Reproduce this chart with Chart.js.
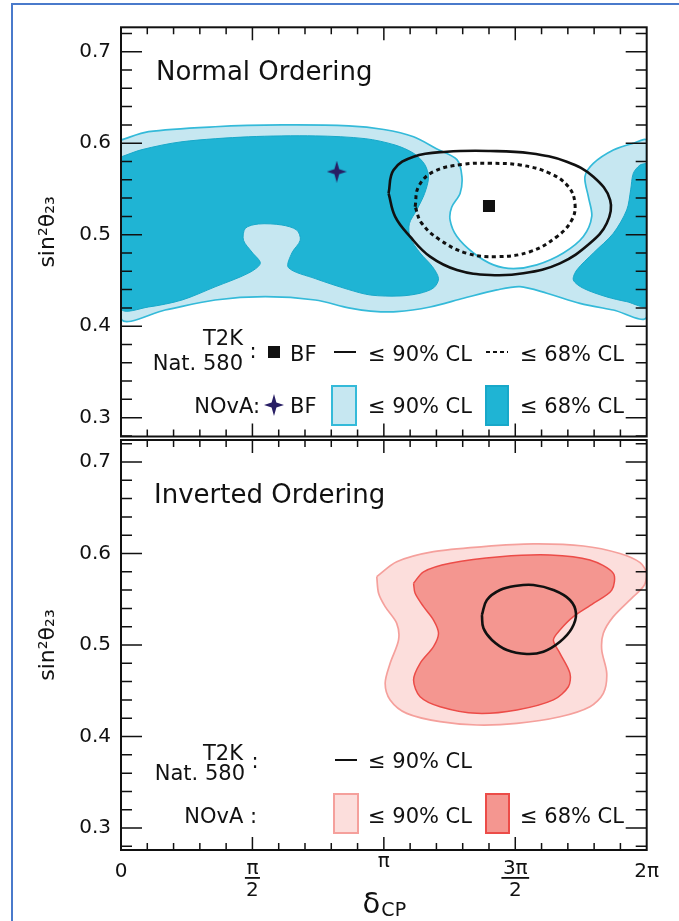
<!DOCTYPE html>
<html><head><meta charset="utf-8">
<script src="https://cdn.jsdelivr.net/npm/chart.js@4.4.1/dist/chart.umd.min.js"></script>
<style>
html,body{margin:0;padding:0;background:#fff;overflow:hidden;width:679px;height:921px;}
#frame{position:absolute;left:11px;top:3px;width:900px;height:1100px;border-left:2px solid #4a7acb;border-top:2px solid #4a7acb;}
canvas{position:absolute;left:0;top:0;}
</style></head><body>
<div id="frame"></div>
<canvas id="cNO" width="679" height="921"></canvas>
<canvas id="cIO" width="679" height="921"></canvas>
<script>
// ---- axis labels ----
const xTickValues = [0, 0.5, 1, 1.5, 2];           // delta_CP in units of pi
const xTickLabels = [['0'], ['π', '2'], ['π'], ['3π', '2'], ['2π']];
const yTickValues = [0.3, 0.4, 0.5, 0.6, 0.7];
const yTickLabels = ['0.3', '0.4', '0.5', '0.6', '0.7'];
const yTitle = 'sin²θ₂₃';
const xTitleMain = 'δ';
const xTitleSub = 'CP';

// ---- Normal ordering: NOvA contours  [delta_CP/pi, sin^2 theta23] ----
const novaNO90 = [[0,0.6035],[0.105,0.6126],[0.358,0.618],[0.612,0.620],[0.866,0.619],[1.0,0.615],[1.113,0.607],[1.2,0.594],[1.278,0.582],[1.297,0.5634],[1.29,0.545],[1.258,0.530],[1.252,0.516],[1.278,0.498],[1.341,0.480],[1.417,0.467],[1.493,0.463],[1.582,0.467],[1.683,0.480],[1.759,0.498],[1.791,0.520],[1.778,0.5415],[1.765,0.5634],[1.797,0.578],[1.873,0.5926],[1.949,0.600],[2.0,0.6027],[2.0,0.4104],[1.873,0.4177],[1.746,0.425],[1.62,0.436],[1.518,0.4432],[1.43,0.4396],[1.303,0.4305],[1.176,0.421],[1.049,0.4158],[0.95,0.4165],[0.866,0.420],[0.739,0.4286],[0.549,0.4322],[0.358,0.4286],[0.168,0.4177],[0,0.4086]];
const novaNO68left = [[0,0.585],[0.08,0.593],[0.232,0.6016],[0.485,0.607],[0.739,0.608],[0.929,0.605],[1.043,0.598],[1.113,0.589],[1.155,0.577],[1.17,0.563],[1.155,0.545],[1.125,0.527],[1.097,0.512],[1.100,0.497],[1.138,0.480],[1.185,0.465],[1.208,0.452],[1.19,0.442],[1.138,0.436],[1.062,0.433],[0.95,0.434],[0.866,0.440],[0.739,0.452],[0.637,0.464],[0.65,0.480],[0.682,0.494],[0.669,0.505],[0.612,0.5106],[0.523,0.5117],[0.473,0.507],[0.466,0.494],[0.498,0.481],[0.53,0.4687],[0.485,0.458],[0.358,0.443],[0.232,0.4286],[0.105,0.421],[0,0.4195]];
const novaNO68right = [[2,0.578],[1.974,0.576],[1.949,0.567],[1.939,0.549],[1.924,0.527],[1.873,0.5015],[1.797,0.480],[1.734,0.4614],[1.721,0.4505],[1.759,0.4414],[1.848,0.432],[1.924,0.4268],[2,0.423]];
const novaNOBest = [[0.821,0.5689]];
// ---- Normal ordering: T2K (Nature 580) ----
const t2kNO90 = [[1.018,0.5452],[1.037,0.5707],[1.113,0.5853],[1.240,0.5907],[1.404,0.5915],[1.556,0.589],[1.696,0.5798],[1.797,0.5634],[1.861,0.5379],[1.848,0.5125],[1.784,0.4906],[1.670,0.4687],[1.531,0.4578],[1.404,0.456],[1.278,0.4614],[1.176,0.476],[1.100,0.4978],[1.043,0.5197]];
const t2kNO68 = [[1.119,0.5306],[1.132,0.5525],[1.189,0.5689],[1.303,0.577],[1.404,0.578],[1.518,0.5762],[1.632,0.5671],[1.702,0.5525],[1.727,0.5343],[1.715,0.516],[1.658,0.4978],[1.556,0.4814],[1.430,0.476],[1.316,0.4797],[1.214,0.4942],[1.144,0.5125]];
const t2kNOBest = [[1.400,0.5314]];

// ---- Inverted ordering ----
const novaIO90 = [[0.973,0.5747],[1.049,0.591],[1.189,0.602],[1.379,0.6075],[1.569,0.6104],[1.759,0.6082],[1.898,0.600],[1.975,0.590],[2.0,0.578],[1.99,0.565],[1.949,0.5528],[1.873,0.531],[1.835,0.5128],[1.829,0.4945],[1.848,0.469],[1.835,0.4472],[1.784,0.4326],[1.670,0.4216],[1.506,0.4143],[1.354,0.4126],[1.214,0.4162],[1.087,0.4253],[1.024,0.440],[1.005,0.4581],[1.024,0.480],[1.056,0.5055],[1.049,0.5237],[1.005,0.5419],[0.980,0.5565]];
const novaIO68 = [[1.113,0.5674],[1.151,0.580],[1.252,0.5893],[1.442,0.5965],[1.632,0.5984],[1.784,0.5929],[1.873,0.5783],[1.867,0.560],[1.797,0.5455],[1.721,0.531],[1.670,0.5164],[1.645,0.5055],[1.670,0.4909],[1.708,0.469],[1.702,0.4544],[1.645,0.440],[1.506,0.429],[1.354,0.4253],[1.214,0.4326],[1.138,0.4435],[1.113,0.4617],[1.138,0.480],[1.189,0.4982],[1.208,0.5128],[1.189,0.5273],[1.151,0.5419],[1.119,0.5565]];
const t2kIO90 = [[1.373,0.5328],[1.392,0.5492],[1.442,0.5601],[1.506,0.5648],[1.569,0.5656],[1.645,0.5601],[1.708,0.5492],[1.731,0.5346],[1.715,0.5182],[1.670,0.5036],[1.607,0.4927],[1.544,0.4902],[1.468,0.4945],[1.411,0.5055],[1.379,0.5182]];

// ---- colours ----
const C = {
  blueLight: 'rgb(198,231,241)', blueLine: 'rgb(52,186,217)', blueDark: 'rgb(31,180,212)', blueDarkLine: 'rgb(24,168,201)',
  redLight: 'rgb(252,222,220)', redLine: 'rgb(245,160,156)', redDark: 'rgb(244,150,144)', redDarkLine: 'rgb(236,76,72)',
  ink: '#111', star: 'rgb(40,30,100)'
};
const FONT = '"DejaVu Sans", "Liberation Sans", sans-serif';

function makeStar(w, h, color) {
  const c = document.createElement('canvas'); c.width = w; c.height = h;
  const g = c.getContext('2d'); const cx = w / 2, cy = h / 2, r = 2.4;
  g.fillStyle = color; g.beginPath();
  g.moveTo(cx, 0); g.lineTo(cx + r, cy - r); g.lineTo(w, cy); g.lineTo(cx + r, cy + r);
  g.lineTo(cx, h); g.lineTo(cx - r, cy + r); g.lineTo(0, cy); g.lineTo(cx - r, cy - r);
  g.closePath(); g.fill();
  return c;
}
const starImg = makeStar(20, 22, C.star);

const toPts = (arr, close) => { const p = arr.map(([x, y]) => ({x, y})); if (close) p.push({...p[0]}); return p; };
const region = (d, fill, line, lw, order) => ({data: toPts(d, true), showLine: true, fill: 'shape', backgroundColor: fill, borderColor: line, borderWidth: lw, pointRadius: 0, tension: 0.3, order});
const contour = (d, dash, lw, order) => ({data: toPts(d, true), showLine: true, fill: false, borderColor: C.ink, borderWidth: lw, borderDash: dash, pointRadius: 0, tension: 0.4, order});
const marker = (d, style, r, color, order) => ({data: toPts(d, false), showLine: false, pointStyle: style, pointRadius: r, backgroundColor: color, borderColor: color, borderWidth: 0, order});

const decorPlugin = {
  id: 'decor',
  afterDraw(chart, args, o) {
    const {ctx, chartArea: a, scales: {x, y}} = chart;
    ctx.save();
    ctx.strokeStyle = C.ink; ctx.fillStyle = C.ink;
    ctx.lineWidth = 2;
    ctx.strokeRect(a.left, a.top, a.right - a.left, a.bottom - a.top);
    ctx.lineWidth = 1.5; ctx.beginPath();
    for (let k = 0; k <= 40; k++) {
      const v = k * 0.02; if (v < y.min || v > y.max) continue;
      const p = y.getPixelForValue(v); const L = k % 5 === 0 ? 21 : 11;
      ctx.moveTo(a.left, p); ctx.lineTo(a.left + L, p);
      ctx.moveTo(a.right, p); ctx.lineTo(a.right - L, p);
    }
    for (let k = 1; k < 20; k++) {
      const p = x.getPixelForValue(k * 0.1); const L = k % 5 === 0 ? 13 : 7;
      ctx.moveTo(p, a.top); ctx.lineTo(p, a.top + L);
      ctx.moveTo(p, a.bottom); ctx.lineTo(p, a.bottom - L);
    }
    ctx.stroke();
    // panel title
    ctx.textAlign = 'left'; ctx.textBaseline = 'alphabetic';
    ctx.font = '26px ' + FONT;
    ctx.fillText(o.title.text, o.title.x, o.title.base);
    // legend
    const S = 21;
    ctx.font = S + 'px ' + FONT;
    for (const t of o.texts) { ctx.textAlign = t.align || 'left'; ctx.fillText(t.t, t.x, t.cy + 0.365 * S); }
    for (const b of o.boxes) {
      ctx.fillStyle = b.fill; ctx.fillRect(b.x, b.y, b.w, b.h);
      ctx.strokeStyle = b.stroke; ctx.lineWidth = 2; ctx.strokeRect(b.x, b.y, b.w, b.h);
    }
    ctx.fillStyle = C.ink; ctx.strokeStyle = C.ink;
    for (const s of o.squares) ctx.fillRect(s.cx - s.s / 2, s.cy - s.s / 2, s.s, s.s);
    for (const l of o.lines) {
      ctx.setLineDash(l.dash); ctx.lineWidth = 2; ctx.beginPath();
      ctx.moveTo(l.x1, l.y); ctx.lineTo(l.x2, l.y); ctx.stroke();
    }
    ctx.setLineDash([]);
    for (const s of o.stars) ctx.drawImage(starImg, s.cx - starImg.width / 2, s.cy - starImg.height / 2);
    // x axis labels (bottom panel)
    if (o.xLabels) {
      ctx.fillStyle = C.ink; ctx.textAlign = 'center';
      ctx.font = '20px ' + FONT;
      xTickValues.forEach((v, i) => {
        const px = x.getPixelForValue(v); const lab = xTickLabels[i];
        if (lab.length === 2) {
          ctx.fillText(lab[0], px, a.bottom + 24);
          const w = ctx.measureText(lab[0]).width + 3;
          ctx.fillRect(px - w / 2, a.bottom + 27, w, 1.8);
          ctx.fillText(lab[1], px, a.bottom + 46);
        } else {
          ctx.fillText(lab[0], px, a.bottom + (lab[0] === 'π' ? 17 : 27));
        }
      });
      const cx = (a.left + a.right) / 2;
      ctx.font = '29px ' + FONT; const w1 = ctx.measureText(xTitleMain).width;
      ctx.font = '19px ' + FONT; const w2 = ctx.measureText(xTitleSub).width;
      const x0 = cx - (w1 + w2) / 2;
      ctx.textAlign = 'left';
      ctx.font = '29px ' + FONT; ctx.fillText(xTitleMain, x0, a.bottom + 63);
      ctx.font = '19px ' + FONT; ctx.fillText(xTitleSub, x0 + w1 + 1, a.bottom + 66);
    }
    ctx.restore();
  }
};

function buildChart(id, cfg) {
  return new Chart(document.getElementById(id), {
    type: 'scatter',
    data: {datasets: cfg.datasets},
    options: {
      responsive: false, animation: false, devicePixelRatio: 1, events: [],
      layout: {padding: cfg.padding},
      plugins: {legend: {display: false}, tooltip: {enabled: false}, decor: cfg.decor},
      scales: {
        x: {type: 'linear', min: 0, max: 2, display: cfg.showX,
            ticks: {display: false}, grid: {display: false, drawTicks: false}, border: {display: false},
            afterFit: s => { s.height = cfg.xAxisHeight; }},
        y: {type: 'linear', min: cfg.yMin, max: cfg.yMax,
            afterBuildTicks: s => { s.ticks = yTickValues.map(v => ({value: v})); },
            ticks: {callback: (v, i) => yTickLabels[i], font: {family: FONT, size: 20}, color: C.ink, padding: 10, autoSkip: false},
            grid: {display: false, drawTicks: false}, border: {display: false},
            title: {display: true, text: yTitle, font: {family: FONT, size: 22}, color: C.ink, padding: {top: 35, bottom: 0}},
            afterFit: s => { s.width = 121; }}
      }
    },
    plugins: [decorPlugin]
  });
}

buildChart('cNO', {
  yMin: 0.2794, yMax: 0.7267, showX: false, xAxisHeight: 0,
  padding: {top: 27.3, bottom: 484.5, left: 0, right: 32.3},
  datasets: [
    region(novaNO90, C.blueLight, C.blueLine, 1.7, 6),
    region(novaNO68left, C.blueDark, C.blueDarkLine, 1, 5),
    region(novaNO68right, C.blueDark, C.blueDarkLine, 1, 5),
    contour(t2kNO90, [], 2.6, 3),
    contour(t2kNO68, [4, 3.5], 3, 3),
    marker(t2kNOBest, 'rect', 8.5, C.ink, 1),
    marker(novaNOBest, starImg, 10, C.star, 1)
  ],
  decor: {
    title: {text: 'Normal Ordering', x: 156, base: 80},
    texts: [
      {t: 'T2K', x: 243, cy: 337, align: 'right'}, {t: 'Nat. 580', x: 243, cy: 362, align: 'right'},
      {t: ':', x: 253, cy: 350, align: 'center'},
      {t: 'BF', x: 290, cy: 353}, {t: '≤ 90% CL', x: 368, cy: 353}, {t: '≤ 68% CL', x: 520, cy: 353},
      {t: 'NOvA:', x: 260, cy: 405, align: 'right'}, {t: 'BF', x: 290, cy: 405},
      {t: '≤ 90% CL', x: 368, cy: 405}, {t: '≤ 68% CL', x: 520, cy: 405}
    ],
    squares: [{cx: 274, cy: 352, s: 12}],
    lines: [{x1: 334, x2: 356, y: 352, dash: []}, {x1: 486, x2: 508, y: 352, dash: [4, 3]}],
    stars: [{cx: 274, cy: 405}],
    boxes: [{x: 332, y: 386, w: 24, h: 39, fill: C.blueLight, stroke: C.blueLine},
            {x: 486, y: 386, w: 22, h: 39, fill: C.blueDark, stroke: C.blueDarkLine}],
    xLabels: false
  }
});

buildChart('cIO', {
  yMin: 0.276, yMax: 0.724, showX: true, xAxisHeight: 71,
  padding: {top: 440, bottom: 0, left: 0, right: 32.3},
  datasets: [
    region(novaIO90, C.redLight, C.redLine, 1.7, 6),
    region(novaIO68, C.redDark, C.redDarkLine, 1.5, 5),
    contour(t2kIO90, [], 2.6, 3)
  ],
  decor: {
    title: {text: 'Inverted Ordering', x: 154, base: 503},
    texts: [
      {t: 'T2K', x: 243, cy: 752, align: 'right'}, {t: 'Nat. 580', x: 245, cy: 772, align: 'right'},
      {t: ':', x: 255, cy: 760, align: 'center'},
      {t: '≤ 90% CL', x: 368, cy: 760},
      {t: 'NOvA :', x: 257, cy: 815, align: 'right'},
      {t: '≤ 90% CL', x: 368, cy: 815}, {t: '≤ 68% CL', x: 520, cy: 815}
    ],
    squares: [],
    lines: [{x1: 335, x2: 357, y: 760, dash: []}],
    stars: [],
    boxes: [{x: 334, y: 794, w: 24, h: 39, fill: C.redLight, stroke: C.redLine},
            {x: 486, y: 794, w: 23, h: 39, fill: C.redDark, stroke: C.redDarkLine}],
    xLabels: true
  }
});
</script></body></html>
